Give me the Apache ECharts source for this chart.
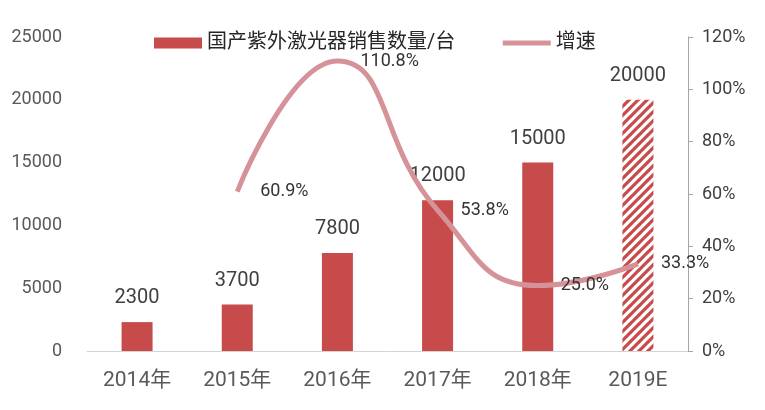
<!DOCTYPE html>
<html>
<head>
<meta charset="utf-8">
<script src="https://cdn.jsdelivr.net/npm/echarts@6/dist/echarts.min.js"></script>
<style>html,body{margin:0;padding:0;background:#fff}#c{width:765px;height:410px}</style>
</head>
<body>
<div id="c"></div>
<script>
var categories = ['2014年', '2015年', '2016年', '2017年', '2018年', '2019E'];
var salesValues = [2300, 3700, 7800, 12000, 15000, 20000];
var growthValues = ['-', 60.9, 110.8, 53.8, 25.0, 33.3];
var leftTicks = {min: 0, max: 25000, interval: 5000};
var rightTicks = {min: 0, max: 120, interval: 20};
var barName = '国产紫外激光器销售数量/台';
var lineName = '增速';
var estimateIndex = 5;

var FONT = "Roboto, 'Noto Sans CJK SC', sans-serif";
var RED = '#c84b4b';
var PINK = '#d69299';

var pat = document.createElement('canvas');
pat.width = 9; pat.height = 9;
var g = pat.getContext('2d');
g.fillStyle = '#ffffff'; g.fillRect(0, 0, 9, 9);
g.strokeStyle = RED; g.lineWidth = 3.2; g.lineCap = 'square';
g.beginPath();
g.moveTo(-1, 10); g.lineTo(10, -1);
g.moveTo(-1, 1); g.lineTo(1, -1);
g.moveTo(8, 10); g.lineTo(10, 8);
g.stroke();

var barData = salesValues.map(function (v, i) {
  if (i === estimateIndex) {
    return {value: v, itemStyle: {color: {image: pat, repeat: 'repeat'}}};
  }
  return v;
});

var chart = echarts.init(document.getElementById('c'), null, {renderer: 'canvas'});
chart.setOption({
  animation: false,
  backgroundColor: '#fff',
  textStyle: {fontFamily: FONT},
  grid: {left: 87, right: 77, top: 37, bottom: 59, containLabel: false},
  legend: {
    left: 149, top: 28,
    itemWidth: 48, itemHeight: 11, itemGap: 45,
    textStyle: {fontSize: 20, color: '#262626', fontFamily: FONT},
    data: [
      {name: barName, icon: 'rect'},
      {name: lineName, lineStyle: {width: 5, color: PINK}, itemStyle: {color: 'rgba(0,0,0,0)', borderWidth: 0}}
    ]
  },
  xAxis: {
    type: 'category',
    data: categories,
    axisLine: {lineStyle: {color: '#d4d4d4', width: 1}},
    axisTick: {show: false},
    axisLabel: {fontSize: 21, color: '#595959', margin: 19, fontFamily: FONT}
  },
  yAxis: [{
    type: 'value',
    min: leftTicks.min, max: leftTicks.max, interval: leftTicks.interval,
    axisLine: {show: false}, axisTick: {show: false}, splitLine: {show: false},
    axisLabel: {fontSize: 18, color: '#595959', margin: 25, fontFamily: FONT,
      formatter: function (v) { return String(v); }}
  }, {
    type: 'value', position: 'right',
    min: rightTicks.min, max: rightTicks.max, interval: rightTicks.interval,
    axisLine: {show: true, lineStyle: {color: '#a6a6a6', width: 1}},
    axisTick: {show: true, length: 5, lineStyle: {color: '#a6a6a6'}},
    splitLine: {show: false},
    axisLabel: {fontSize: 18, color: '#404040', margin: 14, formatter: '{value}%', fontFamily: FONT}
  }],
  series: [{
    name: barName,
    type: 'bar',
    data: barData,
    barWidth: 31,
    itemStyle: {color: RED},
    label: {show: true, position: 'top', distance: 14, fontSize: 20, color: '#404040', fontFamily: FONT},
    z: 2
  }, {
    name: lineName,
    type: 'line',
    yAxisIndex: 1,
    data: growthValues,
    smooth: 0.5,
    symbol: 'circle',
    symbolSize: 2,
    showSymbol: true,
    lineStyle: {color: PINK, width: 5},
    itemStyle: {color: 'rgba(0,0,0,0)', borderWidth: 0},
    emphasis: {disabled: true},
    label: {
      show: true, position: 'right', distance: 22, opacity: 1,
      fontSize: 18, color: '#333333', fontFamily: FONT,
      formatter: function (p) { return Number(p.value).toFixed(1) + '%'; }
    },
    z: 3
  }]
});
</script>
</body>
</html>
